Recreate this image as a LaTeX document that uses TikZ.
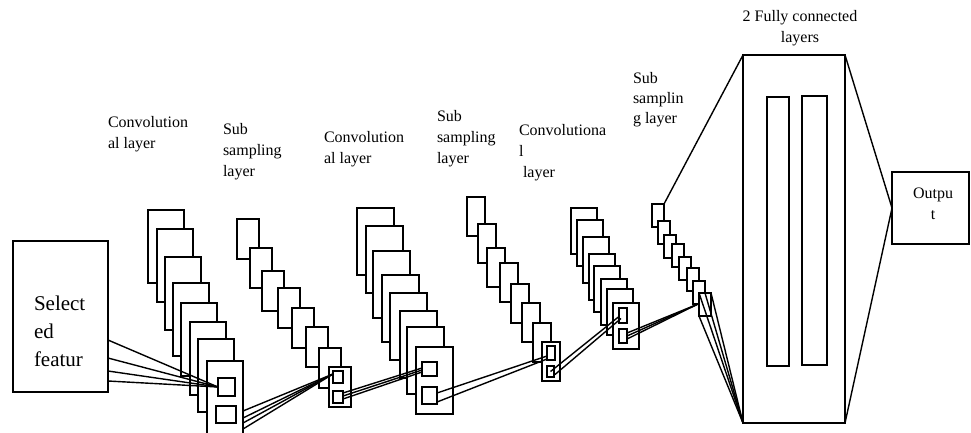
\documentclass[tikz,border=0pt]{standalone}
\usepackage{fontspec}
\setmainfont{Liberation Serif}
\usetikzlibrary{calc}
\begin{document}
\begin{tikzpicture}[x=1pt,y=-1pt,
  fmap/.style={draw, fill=white, line width=1.8pt, inner sep=0pt, outer sep=0pt, anchor=north west},
  link/.style={line width=1.4pt},
  lbl/.style={inner sep=0pt, outer sep=0pt, align=left, anchor=base west, font=\fontsize{16}{21}\selectfont},
  clbl/.style={lbl, align=center, anchor=base},
]
\clip (0,0) rectangle (971,432);

% input block (text placed by the baseline of its last line)
\node[fmap, minimum width=95pt, minimum height=151pt] (sel) at (13,241) {};
\node[lbl, font=\fontsize{21}{28}\selectfont] (seltxt) at (34,366) {Select\\ed\\featur};

% convolutional layer 1
\foreach \px/\py [count=\i] in {148/210,157/229,165/257,173/283,181/303,190/322,198/339,207/361}
  \node[fmap, minimum width=36pt, minimum height=73pt] (c1-\i) at (\px,\py) {};
\node[fmap, minimum width=17pt, minimum height=18pt] (c1sq1) at (218,378) {};
\node[fmap, minimum width=20pt, minimum height=17pt] (c1sq2) at (216,406) {};

% sub sampling layer 1
\foreach \px/\py [count=\i] in {237/219,250/248,262/271,278/288,292/308,306/327,319/348,329/367}
  \node[fmap, minimum width=22pt, minimum height=40pt] (s1-\i) at (\px,\py) {};
\node[fmap, minimum width=10pt, minimum height=12pt] (s1sq1) at (333,371) {};
\node[fmap, minimum width=10pt, minimum height=12pt] (s1sq2) at (333,391) {};

% convolutional layer 2
\foreach \px/\py [count=\i] in {357/208,366/226,373/251,382/275,390/293,400/311,407/327,416/347}
  \node[fmap, minimum width=37pt, minimum height=67pt] (c2-\i) at (\px,\py) {};
\node[fmap, minimum width=15pt, minimum height=14pt] (c2sq1) at (422,362) {};
\node[fmap, minimum width=15pt, minimum height=17pt] (c2sq2) at (422,387) {};

% sub sampling layer 2
\foreach \px/\py [count=\i] in {467/197,478/224,487/248,500/263,511/284,522/303,533/323,542/342}
  \node[fmap, minimum width=18pt, minimum height=39pt] (s2-\i) at (\px,\py) {};
\node[fmap, minimum width=8pt, minimum height=14pt] (s2sq1) at (547,346) {};
\node[fmap, minimum width=7pt, minimum height=11pt] (s2sq2) at (547,366) {};

% convolutional layer 3
\foreach \px/\py [count=\i] in {571/208,577/220,583/237,589/254,594/266,601/279,607/289,613/303}
  \node[fmap, minimum width=26pt, minimum height=46pt] (c3-\i) at (\px,\py) {};
\node[fmap, minimum width=8pt, minimum height=15pt] (c3sq1) at (619,308) {};
\node[fmap, minimum width=8pt, minimum height=14pt] (c3sq2) at (619,329) {};

% sub sampling layer 3
\foreach \px/\py [count=\i] in {652/204,658/221,664/235,672/244,679/257,687/268,693/281,699/293}
  \node[fmap, minimum width=12pt, minimum height=23pt] (s3-\i) at (\px,\py) {};

% fully connected block and output
\node[fmap, fill=none, minimum width=102pt, minimum height=368pt] (fc) at (743,55) {};
\node[fmap, minimum width=22pt, minimum height=269pt] (fc1) at (767,97) {};
\node[fmap, minimum width=25pt, minimum height=269pt] (fc2) at (802,96) {};
\node[fmap, minimum width=77pt, minimum height=72pt] (out) at (892,172) {};

% labels (placed by the baseline of their last line)
\node[lbl] (l1) at (108,148) {Convolution\\al layer};
\node[lbl] (l2) at (223,176) {Sub\\sampling\\layer};
\node[lbl] (l3) at (324,163) {Convolution\\al layer};
\node[lbl] (l4) at (437,163) {Sub\\sampling\\layer};
\node[lbl] (l5) at (519,177) {Convolutiona\\l\\\hspace*{4pt}layer};
\node[lbl, font=\fontsize{16}{20}\selectfont] (l6) at (633,123) {Sub\\samplin\\g layer};
\node[clbl] (l7) at (800,42) {2 Fully connected\\layers};
\node[clbl] (l8) at (933,219) {Outpu\\t};

% connections
\foreach \dy in {99,117,130,140}
  \draw[link] ($(sel.north east)+(0,\dy)$) -- (c1sq1.west);
\foreach \dy in {50,57,62,68}
  \draw[link] ($(c1-8.north east)+(0,\dy)$) -- ($(s1sq1.north west)+(0,3)$);
\foreach \da/\db in {-4/-1,-1/1,2/3}
  \draw[link] ($(s1sq2.east)+(0,\da)$) -- ($(c2sq1.west)+(0,\db)$);
\foreach \da/\db in {-2.5/3,6.5/6}
  \draw[link] ($(c2sq2.east)+(0,\da)$) -- ($(s2sq1.west)+(0,\db)$);
\draw[link] (s2sq2.center) -- ($(c3sq1.west)+(0,1)$);
\draw[link] ($(s2sq2.east)+(1,3)$) -- ($(c3sq1.west)+(2,3)$);
\foreach \dy in {-3,0,3}
  \draw[link] ($(c3sq2.east)+(0,\dy)$) -- ($(s3-8.west)+(-2,0)$);
\foreach \a in {north west,north,north east,south west}
  \draw[link] (s3-8.\a) -- (fc.south west);
\draw[link] (s3-1.north east) -- (fc.north west);
\draw[link] (fc.north east) -- (out.west);
\draw[link] (fc.south east) -- (out.west);
\end{tikzpicture}
\end{document}
